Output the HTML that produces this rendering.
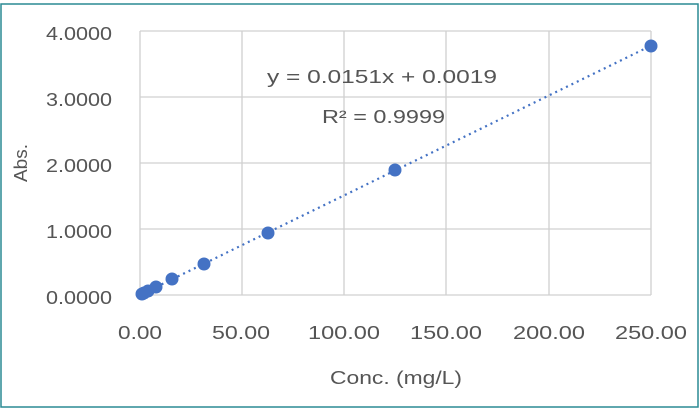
<!DOCTYPE html>
<html><head><meta charset="utf-8"><style>
html,body{margin:0;padding:0;background:#fff;}
svg{display:block;font-family:"Liberation Sans",sans-serif;}
</style></head><body>
<svg width="700" height="411" viewBox="0 0 700 411" xmlns="http://www.w3.org/2000/svg">
<rect x="1" y="4" width="697" height="403" fill="#fff" stroke="#2a8a94" stroke-width="1.5"/>
<g stroke="#d0d0d0" stroke-width="1.3">
<line x1="140" y1="31" x2="651" y2="31"/>
<line x1="140" y1="97" x2="651" y2="97"/>
<line x1="140" y1="163" x2="651" y2="163"/>
<line x1="140" y1="229" x2="651" y2="229"/>
<line x1="140" y1="295" x2="651" y2="295"/>
<line x1="140" y1="31" x2="140" y2="295"/>
<line x1="242" y1="31" x2="242" y2="295"/>
<line x1="344" y1="31" x2="344" y2="295"/>
<line x1="446" y1="31" x2="446" y2="295"/>
<line x1="549" y1="31" x2="549" y2="295"/>
<line x1="651" y1="31" x2="651" y2="295"/>
</g>
<g font-size="18" fill="#555" lengthAdjust="spacingAndGlyphs">
<text x="46" y="40" textLength="66" lengthAdjust="spacingAndGlyphs">4.0000</text>
<text x="46" y="106" textLength="66" lengthAdjust="spacingAndGlyphs">3.0000</text>
<text x="46" y="172" textLength="66" lengthAdjust="spacingAndGlyphs">2.0000</text>
<text x="46" y="238" textLength="66" lengthAdjust="spacingAndGlyphs">1.0000</text>
<text x="46" y="304" textLength="66" lengthAdjust="spacingAndGlyphs">0.0000</text>
</g>
<g font-size="18" fill="#555">
<text x="118" y="339" textLength="44" lengthAdjust="spacingAndGlyphs">0.00</text>
<text x="212" y="339" textLength="58" lengthAdjust="spacingAndGlyphs">50.00</text>
<text x="308" y="339" textLength="72" lengthAdjust="spacingAndGlyphs">100.00</text>
<text x="410" y="339" textLength="72" lengthAdjust="spacingAndGlyphs">150.00</text>
<text x="513" y="339" textLength="72" lengthAdjust="spacingAndGlyphs">200.00</text>
<text x="615" y="339" textLength="72" lengthAdjust="spacingAndGlyphs">250.00</text>
<text x="330" y="384" textLength="132" lengthAdjust="spacingAndGlyphs">Conc. (mg/L)</text>
<text x="267" y="83" textLength="230" lengthAdjust="spacingAndGlyphs">y = 0.0151x + 0.0019</text>
<text x="322" y="123" textLength="123" lengthAdjust="spacingAndGlyphs">R² = 0.9999</text>
</g>
<text transform="translate(27,182) rotate(-90)" font-size="18" fill="#555" textLength="38" lengthAdjust="spacingAndGlyphs">Abs.</text>
<line x1="140" y1="294.9" x2="651" y2="45.7" stroke="#4472c4" stroke-width="2.2" stroke-dasharray="2,4"/>
<g fill="#4472c4">
<circle cx="142" cy="294" r="6.5"/>
<circle cx="144" cy="293" r="6.5"/>
<circle cx="148" cy="291" r="6.5"/>
<circle cx="156" cy="287" r="6.5"/>
<circle cx="172" cy="279" r="6.5"/>
<circle cx="204" cy="264" r="6.5"/>
<circle cx="268" cy="233" r="6.5"/>
<circle cx="395" cy="170" r="6.5"/>
<circle cx="651" cy="46" r="6.5"/>
</g>
</svg>
</body></html>
